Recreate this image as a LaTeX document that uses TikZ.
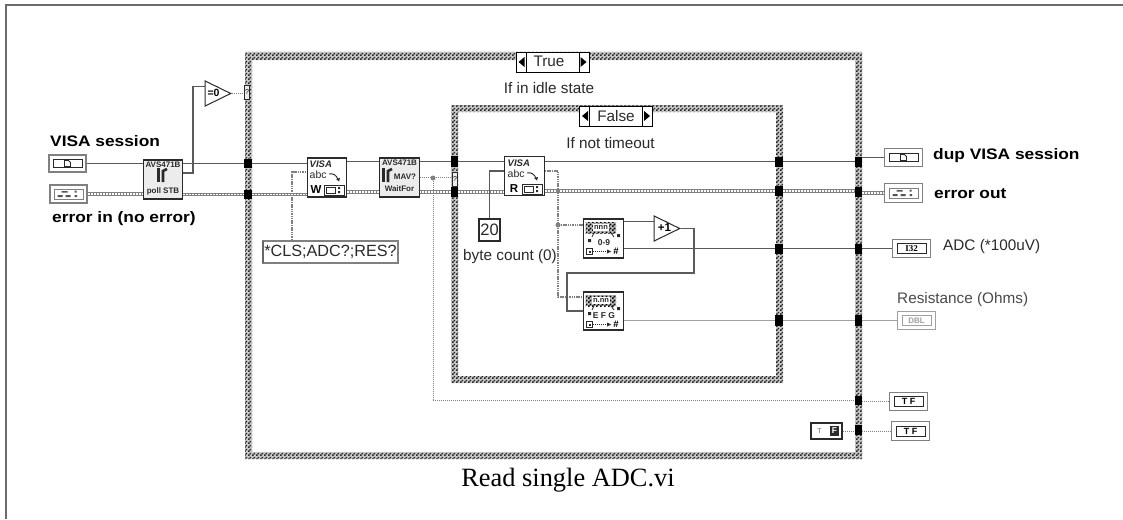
\documentclass[tikz,border=0pt]{standalone}
\usepackage{fontspec}
\setmainfont{Liberation Sans}
\newfontfamily\timesf{Liberation Serif}
\newfontfamily\boldwide[FakeStretch=1.14]{Liberation Sans Bold}
\usetikzlibrary{patterns,shapes.geometric}
\pgfdeclarepatternformonly{lvcheck}{\pgfqpoint{0pt}{0pt}}{\pgfqpoint{4pt}{4pt}}{\pgfqpoint{4pt}{4pt}}{%
  \pgfpathrectangle{\pgfqpoint{0pt}{0pt}}{\pgfqpoint{2pt}{2pt}}%
  \pgfpathrectangle{\pgfqpoint{2pt}{2pt}}{\pgfqpoint{2pt}{2pt}}%
  \pgfusepath{fill}}
\pgfdeclarelayer{frames}
\pgfdeclarelayer{wires}
\pgfsetlayers{frames,wires,main}
\definecolor{ink}{HTML}{2A2A2A}
\definecolor{wiregray}{HTML}{5A5A5A}
\definecolor{lightwire}{HTML}{A0A0A0}
\definecolor{termgray}{HTML}{808080}
\definecolor{nodefill}{HTML}{ECECEC}
\tikzset{
  x=1pt,y=-1pt,
  band/.style={even odd rule,preaction={fill=black!22,even odd rule},pattern=lvcheck,pattern color=black!85},
  labeltext/.style={inner sep=0pt,font=\fontsize{15.3}{17}\selectfont,text=ink},
  boldlabel/.style={inner sep=0pt,font=\boldwide\fontsize{15.2}{17}\selectfont,text=black},
  tunnel/.style={fill=black,draw=none,inner sep=0pt,minimum width=7.5pt},
  selbox/.style={draw=black,fill=white,line width=.9pt,inner sep=0pt,minimum width=73pt,minimum height=20pt},
  vibox/.style={draw=ink,line width=1.1pt,inner sep=0pt,minimum width=39.5pt,minimum height=39pt},
  tiny/.style={inner sep=0pt,text=ink,font=\fontsize{8}{8}\selectfont\bfseries},
  wire/.style={draw=wiregray,line width=1.2pt},
  lightw/.style={draw=lightwire,line width=1.2pt},
  errw/.style={draw=termgray,line width=3.4pt,postaction={draw=white,line width=1.1pt,dash pattern=on 2pt off 1pt}},
  strw/.style={draw=termgray,line width=1.6pt,dash pattern=on 1.5pt off .8pt},
  boolw/.style={draw=termgray,line width=1pt,dash pattern=on 1pt off 1pt},
  jdot/.style={circle,fill=termgray,draw=none,inner sep=0pt,minimum size=5pt},
  tri/.style={draw=ink,fill=white,line width=1pt,isosceles triangle,isosceles triangle stretches,shape border rotate=0,inner sep=0pt,minimum width=25pt,minimum height=25.5pt},
  termout/.style={draw=termgray,fill=white,line width=1.3pt,inner sep=0pt,minimum width=38pt,minimum height=18.5pt},
  termin/.style={draw=termgray,fill=white,line width=2.2pt,inner sep=0pt,minimum width=37pt,minimum height=17.5pt},
  terminner/.style={draw=ink,fill=white,line width=1pt,inner sep=0pt,minimum width=29pt,minimum height=10pt},
}
\newcommand{\tun}[4]{\node[tunnel,minimum height=#4pt] (#1) at (#2,#3) {};}
\newcommand{\srqicon}[2]{%
  \fill[ink] (#1,#2) rectangle ++(2.8,14);
  \draw[ink,line width=2.6pt] (#1+6,#2+14) -- (#1+6,#2+3) -- (#1+10,#2+1);
}
\newcommand{\selarrows}[2]{% left x, top y, 73 wide 20 tall
  \draw[black,line width=.9pt] (#1+10,#2) -- (#1+10,#2+20) (#1+63,#2) -- (#1+63,#2+20);
  \fill[black] (#1+2.5,#2+10) -- (#1+8.5,#2+5) -- (#1+8.5,#2+15) -- cycle;
  \fill[black] (#1+70.5,#2+10) -- (#1+64.5,#2+5) -- (#1+64.5,#2+15) -- cycle;
}
\newcommand{\pageicon}[2]{%
  \draw[ink,line width=.8pt] (#1-3,#2+3) -- (#1-3,#2-3) -- (#1+1,#2-3) -- (#1+3,#2-1) -- (#1+3,#2+3) -- cycle;
}
\newcommand{\clustericon}[2]{%
  \fill[ink!80] (#1-11,#2+1) rectangle ++(5,2) (#1-3,#2+1) rectangle ++(5,2) (#1+6,#2+1) rectangle ++(2.5,2)
    (#1-7,#2-3) rectangle ++(6,1.6) (#1+6,#2-3.5) rectangle ++(2,2);
}
\newcommand{\visaicon}[4]{% node left x, top y, letter, name
  \node[inner sep=0pt,text=ink,font=\fontsize{9.5}{9}\selectfont\bfseries\itshape,anchor=west] (#4v) at (#1+2.5,#2+6.5) {VISA};
  \node[inner sep=0pt,text=ink,font=\fontsize{10.5}{10}\selectfont,anchor=west] (#4a) at (#1+2.5,#2+17) {abc};
  \node[inner sep=0pt,text=black,font=\fontsize{11.5}{10}\selectfont\bfseries] (#4l) at (#1+9,#2+32) {#3};
  \draw[ink,line width=.9pt] (#1+22,#2+16) .. controls (#1+26,#2+15) and (#1+29,#2+17) .. (#1+31,#2+21);
  \fill[ink] (#1+29,#2+21) -- (#1+33,#2+20) -- (#1+32,#2+23.5) -- cycle;
  \draw[ink,line width=1pt] (#1+17,#2+27.5) rectangle (#1+37,#2+37);
  \draw[ink,line width=.8pt] (#1+19.5,#2+29.5) rectangle (#1+28,#2+35);
  \fill[ink] (#1+31,#2+29) rectangle ++(2.2,2.2) (#1+31,#2+33) rectangle ++(2.2,2.2);
}
\newcommand{\scanicon}[4]{% left x, top y, text, mid text
  \fill[black!25] (#1+1.5,#2+3) rectangle (#1+32,#2+14);
  \fill[pattern=lvcheck,pattern color=black] (#1+1.5,#2+3) rectangle (#1+32,#2+14);
  \node[inner sep=1pt,fill=white,text=ink,font=\fontsize{7.5}{8}\selectfont\bfseries] at (#1+17,#2+8.5) {#3};
  \draw[ink,line width=.8pt] (#1+10,#2+14) -- (#1+8,#2+18) (#1+27,#2+14) -- (#1+30,#2+18);
  \fill[ink] (#1+4,#2+20) rectangle ++(3,3) (#1+33,#2+15) rectangle ++(3,3);
  \node[inner sep=0pt,text=ink,font=\fontsize{8.5}{8}\selectfont\bfseries] at (#1+20,#2+23.5) {#4};
  \draw[ink,line width=.8pt] (#1+2.5,#2+29.5) rectangle ++(6,6);
  \fill[ink] (#1+4.5,#2+31.5) rectangle ++(2,2);
  \draw[ink,line width=.8pt,dash pattern=on 1pt off 1pt] (#1+9,#2+32.5) -- (#1+23,#2+32.5);
  \fill[ink] (#1+27,#2+32.5) -- (#1+23,#2+30.5) -- (#1+23,#2+34.5) -- cycle;
  \node[inner sep=0pt,text=black,font=\fontsize{9.5}{9}\selectfont\bfseries] at (#1+32,#2+32.5) {\#};
}
\begin{document}
\begin{tikzpicture}
\useasboundingbox (0,0) rectangle (1123,519);
% page rule
\begin{pgfonlayer}{frames}
\fill[white] (0,0) rectangle (1123,519);
\draw[draw=wiregray!90,line width=2pt] (5.5,519) -- (5.5,5.5) -- (1123,5.5);
\fill[band] (245,52) rectangle (862,459) (252,60) rectangle (855,452);
\fill[band] (451,105) rectangle (783,383) (458,112) rectangle (776,376);
\end{pgfonlayer}

% selectors
\node[selbox] (selTrue) at (552.5,62) {};
\selarrows{516}{52}
\node[labeltext] (txtTrue) at (549,61.5) {True};
\node[selbox] (selFalse) at (616,116) {};
\selarrows{579.5}{106}
\node[labeltext] (txtFalse) at (616,116) {False};
\node[labeltext] (capIdle) at (549,88) {If in idle state};
\node[labeltext] (capTimeout) at (610.5,143) {If not timeout};

% front panel terminals and labels
\node[boldlabel,anchor=west] (lblVisa) at (50,141) {VISA session};
\node[termin] (visaIn) at (67.5,163.5) {};
\node[terminner,minimum height=8pt] (visaInI) at (67.5,163.5) {};
\pageicon{67.5}{163.5}
\node[termin] (errIn) at (68.5,194) {};
\node[terminner,draw=termgray] (errInI) at (68.5,194) {};
\clustericon{68.5}{194}
\node[boldlabel,anchor=west] (lblErrIn) at (52,219) {error in (no error)};

\node[termout] (dup) at (903.5,157.5) {};
\node[terminner,minimum height=8pt] (dupI) at (903.5,157.5) {};
\pageicon{903.5}{157.5}
\node[boldlabel,anchor=west] (lblDup) at (933,156) {dup VISA session};
\node[termout] (errOut) at (903.5,193) {};
\node[terminner,draw=termgray] (errOutI) at (903.5,193) {};
\clustericon{903.5}{193}
\node[boldlabel,anchor=west] (lblErrOut) at (934,194) {error out};
\node[termout] (adc) at (911.5,248.5) {};
\node[terminner,font=\fontsize{9}{8}\selectfont\bfseries\timesf] (adcI) at (911.5,248.5) {I32};
\node[labeltext,anchor=west] (lblAdc) at (943,247) {ADC (*100uV)};
\node[labeltext,anchor=west,text=ink!85] (lblRes) at (897,300) {Resistance (Ohms)};
\node[termout,draw=lightwire] (dbl) at (916.5,320.5) {};
\node[terminner,draw=lightwire,text=lightwire,font=\fontsize{8}{8}\selectfont\bfseries] (dblI) at (916.5,320.5) {DBL};
\node[termout] (tfA) at (908.5,401.5) {};
\node[terminner,font=\fontsize{9}{8}\selectfont\bfseries] (tfAI) at (908.5,401.5) {T F};
\node[termout] (tfB) at (910.5,431) {};
\node[terminner,font=\fontsize{9}{8}\selectfont\bfseries] (tfBI) at (910.5,431) {T F};

% tunnels
\tun{tl1}{248}{163.5}{9}
\tun{tl2}{248}{194.5}{9}
\tun{ti1}{454.5}{161.5}{11}
\tun{ti2}{454.5}{192}{10}
\tun{to1}{779}{161.5}{10}
\tun{to2}{779}{191}{10}
\tun{toA}{779}{248.5}{10}
\tun{toD}{779}{320.5}{11}
\tun{tr1}{858.5}{161.5}{10}
\tun{tr2}{858.5}{192}{10}
\tun{trA}{858.5}{248.5}{10}
\tun{trD}{858.5}{320.5}{11}
\tun{trB}{858.5}{400.5}{9}
\tun{trF}{858.5}{430}{10}
\node[draw=ink,fill=nodefill,line width=.7pt,inner sep=0pt,minimum width=5.5pt,minimum height=14pt,font=\fontsize{7}{7}\selectfont] (oq) at (247,92) {?};
\node[draw=ink,fill=nodefill,line width=.7pt,inner sep=0pt,minimum width=5.5pt,minimum height=14pt,font=\fontsize{7}{7}\selectfont] (iq) at (455,179.5) {?};

% block diagram nodes
\node[vibox,fill=nodefill] (poll) at (163,179.5) {};
\node[tiny] (pollA) at (163,165) {AVS471B};
\srqicon{157}{168}
\node[tiny] (pollB) at (163,191.5) {poll STB};
\node[tri,anchor=apex] (eqz) at (232,93.5) {};
\node[inner sep=0pt,text=black,font=\fontsize{10.5}{10}\selectfont\bfseries] (eqzT) at (213.5,93) {=0};

\node[vibox,fill=white] (visaw) at (327,177.5) {};
\visaicon{307}{158}{W}{vw}
\node[vibox,fill=nodefill] (mav) at (399.5,177.5) {};
\node[tiny] (mavA) at (399.5,163) {AVS471B};
\srqicon{382}{168}
\node[tiny] (mavB) at (405,177) {MAV?};
\node[tiny] (mavC) at (399.5,189) {WaitFor};
\node[vibox,fill=white] (vread) at (524.5,176) {};
\visaicon{505}{157}{R}{vr}
\node[draw=termgray,fill=white,line width=2pt,inner sep=0pt,minimum width=135pt,minimum height=22pt,labeltext,font=\fontsize{16.2}{20}\selectfont] (cmd) at (330.5,252) {*CLS;ADC?;RES?};
\draw[termgray!80!black,line width=2.2pt] (263,241) -- (263,263);
\node[draw=ink,fill=white,line width=2.2pt,inner sep=0pt,minimum width=21pt,minimum height=22pt,font=\fontsize{16.5}{18}\selectfont,text=ink] (cnt) at (489.5,230) {20};
\node[labeltext,anchor=west] (lblCnt) at (463,257) {byte count (0)};
\node[draw=ink,fill=white,line width=1.1pt,inner sep=0pt,minimum width=39.5pt,minimum height=39pt] (scanA) at (603.5,238.5) {};
\scanicon{584}{219}{nnn}{0-9}
\node[tri,anchor=apex] (inc) at (681,228.5) {};
\node[inner sep=0pt,text=black,font=\fontsize{11.5}{11}\selectfont\bfseries] (incT) at (664.5,228) {+1};
\node[draw=ink,fill=white,line width=1.1pt,inner sep=0pt,minimum width=39.5pt,minimum height=38pt] (scanB) at (603.5,311) {};
\scanicon{584}{292}{n.nn}{E F G}
\node[draw=ink,line width=1.6pt,fill=white,inner sep=0pt,minimum width=31pt,minimum height=16pt] (fconst) at (826.5,431) {};
\fill[ink] (830,426) rectangle (839,436);
\node[inner sep=0pt,text=white,font=\fontsize{8.5}{9}\selectfont\bfseries] (fconstF) at (834.5,431) {F};
\node[inner sep=0pt,text=ink!70,font=\fontsize{7}{7}\selectfont] (fconstT) at (819.5,431) {T};

% junctions and bends
\node[jdot] (j1) at (433,178) {};
\node[jdot] (j2) at (558,225) {};
\coordinate (bendA) at (694,273);
\coordinate (bendB) at (567,273);
\coordinate (bendC) at (193,173);

\node[inner sep=0pt,text=black,font=\timesf\fontsize{26.4}{28}\selectfont] (title) at (568,480) {Read single ADC.vi};

\begin{pgfonlayer}{wires}
% refnum wire
\draw[wire] (visaIn.east) -- (poll.west |- visaIn.east);
\draw[wire] (poll.east |- tl1.west) -- (tl1.west);
\draw[wire] (tl1.east) -- (visaw.west |- tl1.east);
\draw[wire] (visaw.east |- ti1.west) -- (ti1.west);
\draw[wire] (ti1.east) -- (vread.west |- ti1.east);
\draw[wire] (vread.east |- to1.west) -- (to1.west);
\draw[wire] (to1.east) -- (tr1.west);
\draw[wire] (tr1.east |- dup.west) -- (dup.west);
% error wire
\draw[errw] (errIn.east) -- (poll.west |- errIn.east);
\draw[errw] (poll.east |- tl2.west) -- (tl2.west);
\draw[errw] (tl2.east) -- (visaw.west |- tl2.east);
\draw[errw] (visaw.east |- ti2.west) -- (ti2.west);
\draw[errw] (ti2.east) -- (vread.west |- ti2.east);
\draw[errw] (vread.east |- to2.west) -- (to2.west);
\draw[errw] (to2.east) -- (tr2.west |- to2.east);
\draw[errw] (tr2.east |- errOut.west) -- (errOut.west);
% status to =0
\draw[wire] (poll.east |- bendC) -- (bendC) |- (eqz.left side);
\draw[boolw] (eqz.apex) -- (oq.west |- eqz.apex);
% command string
\draw[strw] ([xshift=-38.5pt]cmd.north) |- ([yshift=5.5pt]visaw.west);
% MAV boolean
\draw[boolw] (mav.east) -- (iq.west |- mav.east);
\draw[boolw] (j1) |- (trB.west);
\draw[boolw] (trB.east |- tfA.west) -- (tfA.west);
% byte count
\draw[wire] (cnt.north) |- ([yshift=5pt]vread.west);
% read buffer
\draw[strw] ([yshift=5pt]vread.east) -| (j2);
\draw[strw] (j2) |- ([yshift=14pt]scanB.west);
\draw[strw] (j2) -- (scanA.west |- j2);
% scan results
\draw[wire] (scanA.east |- inc.left side) -- (inc.left side);
\draw[wire] (inc.apex) -| (bendA) -- (bendB) |- (scanB.west);
\draw[wire] (scanA.east |- toA.west) -- (toA.west);
\draw[wire] (toA.east) -- (trA.west);
\draw[wire] (trA.east) -- (adc.west |- trA.east);
\draw[lightw] (scanB.east |- toD.west) -- (toD.west);
\draw[lightw] (toD.east) -- (trD.west);
\draw[lightw] (trD.east) -- (dbl.west);
% false constant
\draw[boolw] (fconst.east) -- (trF.west |- fconst.east);
\draw[boolw] (trF.east |- tfB.west) -- (tfB.west);
\end{pgfonlayer}
\end{tikzpicture}
\end{document}
